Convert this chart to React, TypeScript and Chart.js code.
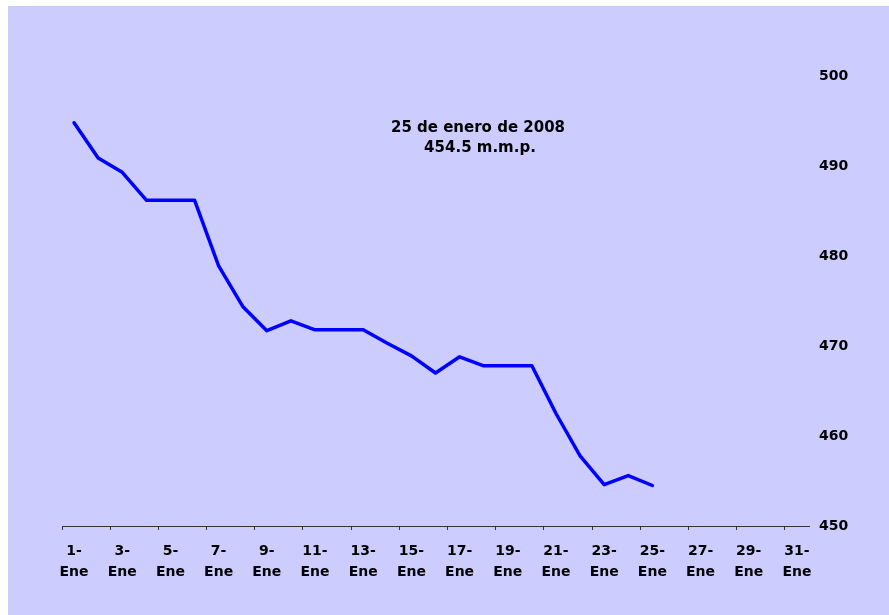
import React, { useEffect, useRef } from "react";
import { Chart, registerables } from "chart.js";

Chart.register(...registerables);

const categories: string[] = [
  "1-Ene", "2-Ene", "3-Ene", "4-Ene", "5-Ene", "6-Ene", "7-Ene", "8-Ene",
  "9-Ene", "10-Ene", "11-Ene", "12-Ene", "13-Ene", "14-Ene", "15-Ene", "16-Ene",
  "17-Ene", "18-Ene", "19-Ene", "20-Ene", "21-Ene", "22-Ene", "23-Ene", "24-Ene",
  "25-Ene", "26-Ene", "27-Ene", "28-Ene", "29-Ene", "30-Ene", "31-Ene",
];

const reserves: number[] = [
  494.8, 490.9, 489.3, 486.2, 486.2, 486.2, 478.9, 474.4, 471.7, 472.8,
  471.8, 471.8, 471.8, 470.3, 468.9, 467.0, 468.8, 467.8, 467.8, 467.8,
  462.5, 457.8, 454.6, 455.6, 454.5,
];

const yTicks: number[] = [450, 460, 470, 480, 490, 500];

const noteLines: string[] = ["25 de enero de 2008", "454.5 m.m.p."];

const FONT = "'DejaVu Sans', sans-serif";

export default function App() {
  const canvasRef = useRef<HTMLCanvasElement | null>(null);

  useEffect(() => {
    if (!canvasRef.current) return;
    const notePlugin = {
      id: "note",
      afterDraw(chart: any) {
        const ctx = chart.ctx;
        ctx.save();
        ctx.fillStyle = "#000";
        ctx.font = `bold 15px ${FONT}`;
        ctx.textAlign = "center";
        ctx.textBaseline = "middle";
        ctx.fillText(noteLines[0], 470, 122);
        ctx.fillText(noteLines[1], 472, 142);
        ctx.restore();
      },
    };
    const chart = new Chart(canvasRef.current, {
      type: "line",
      data: {
        labels: categories,
        datasets: [
          {
            data: reserves,
            borderColor: "#0000FF",
            backgroundColor: "#0000FF",
            borderWidth: 3.5,
            pointRadius: 0,
            tension: 0,
            borderJoinStyle: "round",
            borderCapStyle: "round",
            fill: false,
          },
        ],
      },
      options: {
        responsive: false,
        animation: false,
        layout: { padding: { left: 54, top: 70, right: 0, bottom: 0 } },
        plugins: {
          legend: { display: false },
          title: { display: false },
          tooltip: { enabled: false },
        },
        scales: {
          x: {
            type: "category",
            offset: true,
            afterFit: (scale: any) => {
              scale.height = 89;
            },
            border: { display: true, color: "#333", width: 1 },
            grid: {
              display: true,
              offset: true,
              drawOnChartArea: false,
              drawTicks: true,
              tickLength: 4,
              color: (c: any) => (c.index % 2 === 0 ? "#333" : "rgba(0,0,0,0)"),
            },
            ticks: {
              autoSkip: false,
              maxRotation: 0,
              minRotation: 0,
              padding: 11,
              color: "#000",
              font: { family: FONT, size: 14, weight: "bold", lineHeight: 1.5 },
              callback: (_v: any, i: number) => {
                if (i % 2 !== 0) return "";
                const parts = categories[i].split("-");
                return [parts[0] + "-", parts[1]];
              },
            },
          },
          y: {
            position: "right",
            min: yTicks[0],
            max: yTicks[yTicks.length - 1],
            afterFit: (scale: any) => {
              scale.width = 80;
            },
            afterBuildTicks: (scale: any) => {
              scale.ticks = yTicks.map((v) => ({ value: v }));
            },
            border: { display: false },
            grid: { display: false, drawTicks: false },
            ticks: {
              padding: 10,
              crossAlign: "near",
              color: "#000",
              font: { family: FONT, size: 14, weight: "bold" },
            },
          },
        },
      },
      plugins: [notePlugin],
    } as any);
    return () => chart.destroy();
  }, []);

  return (
    <div
      style={{
        position: "fixed",
        left: 8,
        top: 6,
        width: 881,
        height: 609,
        background: "#CCCCFF",
      }}
    >
      <canvas ref={canvasRef} width={881} height={609} style={{ display: "block" }} />
    </div>
  );
}
